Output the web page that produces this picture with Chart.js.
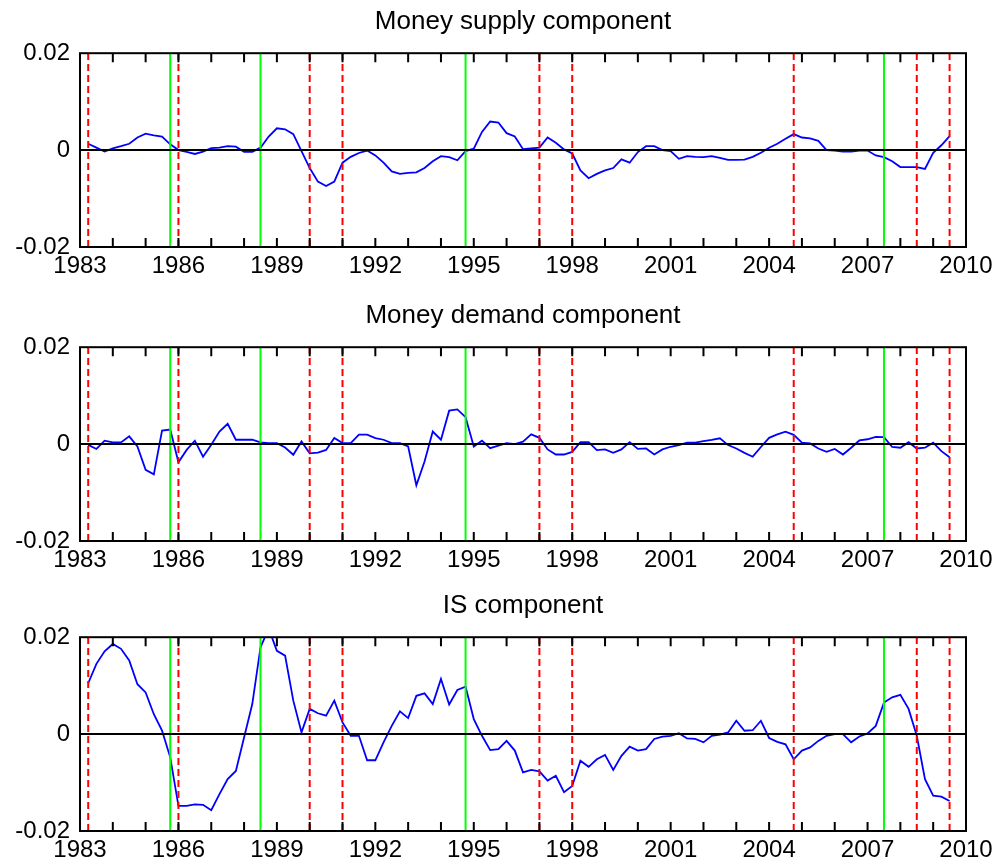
<!DOCTYPE html>
<html>
<head>
<meta charset="utf-8">
<title>Money supply, money demand and IS components</title>
<script src="https://cdn.jsdelivr.net/npm/chart.js@4.4.1/dist/chart.umd.min.js"></script>
<style>
  html, body { margin: 0; padding: 0; background: #fff; overflow: hidden; }
  .panel { position: absolute; left: 0; }
</style>
</head>
<body>
<canvas id="supplyChart" class="panel" width="1003" height="284" style="top:0px"></canvas>
<canvas id="demandChart" class="panel" width="1003" height="284" style="top:294px"></canvas>
<canvas id="isChart" class="panel" width="1003" height="284" style="top:584px"></canvas>
<script>
// quarterly data, first observation 1983Q2
const firstQuarter = 1983.25;

const supplyValues = [
  0.0013, 0.0005, -0.0003, 0.00035, 0.0008, 0.0013, 0.0026, 0.0034, 0.00305, 0.0028,
  0.0012, 0.0000, -0.00035, -0.0008, -0.0003, 0.0004, 0.0005, 0.0008, 0.0007, -0.00035,
  -0.00035, 0.0005, 0.0028, 0.0045, 0.0043, 0.0033, -0.0002, -0.0037, -0.0065, -0.0074,
  -0.0065, -0.0026, -0.0014, -0.0006, -0.0001, -0.0011, -0.0026, -0.0044, -0.0049, -0.0047,
  -0.0046, -0.0037, -0.0023, -0.00125, -0.00145, -0.0021, -0.0002, 0.0003, 0.00375, 0.0059,
  0.0057, 0.0035, 0.0028, 0.0002, 0.00035, 0.0005, 0.0026, 0.0015, 0.00015, -0.0007,
  -0.0042, -0.0058, -0.0049, -0.0042, -0.0037, -0.0019, -0.0026, -0.0004, 0.0008, 0.0008,
  0.0000, -0.0002, -0.0018, -0.00125, -0.0014, -0.00145, -0.00125, -0.0016, -0.0020, -0.0020,
  -0.00195, -0.0014, -0.00055, 0.0005, 0.0013, 0.00235, 0.0033, 0.0026, 0.0024, 0.0019,
  0.0000, -0.0001, -0.0003, -0.0003, -0.0001, -0.0001, -0.0011, -0.00145, -0.0023, -0.0035,
  -0.0035, -0.0035, -0.0039, -0.00055, 0.0010, 0.0029
];

const demandValues = [
  -0.00015, -0.0010, 0.0007, 0.00035, 0.00035, 0.0016, -0.0005, -0.0053, -0.00625, 0.0028,
  0.0030, -0.00375, -0.0012, 0.0007, -0.0026, -0.00015, 0.0026, 0.0042, 0.0009, 0.0009,
  0.0009, 0.00035, 0.0002, 0.0002, -0.0007, -0.0022, 0.00055, -0.0019, -0.00175, -0.0012,
  0.00125, 0.0002, 0.0002, 0.00195, 0.00195, 0.00125, 0.0009, 0.0002, 0.0002, -0.0005,
  -0.0085, -0.0036, 0.0026, 0.0009, 0.0069, 0.00715, 0.00555, -0.0005, 0.0007, -0.00085,
  -0.0003, 0.0002, 0.0000, 0.0005, 0.0020, 0.0013, -0.0011, -0.00215, -0.00215, -0.0016,
  0.0004, 0.0004, -0.00125, -0.0011, -0.0018, -0.0011, 0.0004, -0.0010, -0.0009, -0.00215,
  -0.0011, -0.00055, -0.0002, 0.0003, 0.0003, 0.0006, 0.00085, 0.0012, -0.0002, -0.0009,
  -0.0018, -0.0026, -0.0006, 0.0013, 0.0020, 0.00255, 0.0019, 0.0003, 0.00015, -0.0009,
  -0.0016, -0.0010, -0.00215, -0.00075, 0.00075, 0.0010, 0.0015, 0.00145, -0.0006, -0.00075,
  0.0004, -0.0009, -0.00075, 0.0003, -0.00145, -0.0027
];

const isValues = [
  0.0105, 0.0145, 0.0171, 0.0186, 0.0176, 0.0152, 0.0103, 0.0086, 0.0041, 0.0007,
  -0.0048, -0.0148, -0.0148, -0.0145, -0.0146, -0.0157, -0.0124, -0.0093, -0.0076, -0.0007,
  0.0062, 0.0179, 0.0218, 0.0172, 0.0162, 0.0069, 0.00035, 0.0052, 0.0043, 0.0038,
  0.0069, 0.0024, -0.00035, -0.00035, -0.0054, -0.0054, -0.0017, 0.0017, 0.0047, 0.0033,
  0.0079, 0.0084, 0.0062, 0.0114, 0.0061, 0.0091, 0.0098, 0.0031, -0.00035, -0.0033,
  -0.0031, -0.0014, -0.0034, -0.0079, -0.0074, -0.0077, -0.0096, -0.0086, -0.0120, -0.0107,
  -0.0055, -0.00675, -0.0052, -0.0043, -0.0074, -0.0045, -0.0026, -0.0034, -0.0031, -0.0010,
  -0.0005, -0.00035, 0.0002, -0.0009, -0.0010, -0.0017, -0.00035, -0.0001, 0.00035, 0.00275,
  0.0007, 0.0008, 0.00275, -0.0008, -0.0016, -0.0021, -0.0052, -0.0034, -0.00275, -0.0014,
  -0.00035, 0.0000, 0.0000, -0.0017, -0.0005, 0.00015, 0.0017, 0.0065, 0.0076, 0.0081,
  0.0052, -0.00035, -0.0093, -0.0127, -0.0129, -0.0138
];

// event dates (red dashed) and turning points (green solid)
const redLines = [1983.25, 1986.0, 1990.0, 1991.0, 1997.0, 1998.0, 2004.75, 2008.5, 2009.5];
const greenLines = [1985.75, 1988.5, 1994.75, 2007.5];

const labelYears = [1983, 1986, 1989, 1992, 1995, 1998, 2001, 2004, 2007, 2010];
const yTicks = [-0.02, 0, 0.02];

const xMin = 1983;
const xMax = 2010;
const yMin = -0.02;
const yMax = 0.02;

const fontFamily = '"Liberation Sans", Arial, sans-serif';
const tickLen = 9;

const quarters = supplyValues.map((_, i) => firstQuarter + i * 0.25);

// matlab style box with inward ticks every year
const boxPlugin = {
  id: 'boxPlugin',
  afterDraw(chart) {
    const { ctx, chartArea: area, scales } = chart;
    ctx.save();
    ctx.strokeStyle = '#000';
    ctx.lineWidth = 2;
    ctx.beginPath();
    for (let year = xMin + 1; year < xMax; year++) {
      const x = scales.x.getPixelForValue(year);
      ctx.moveTo(x, area.bottom);
      ctx.lineTo(x, area.bottom - tickLen);
      ctx.moveTo(x, area.top);
      ctx.lineTo(x, area.top + tickLen);
    }
    ctx.stroke();
    ctx.strokeRect(area.left, area.top, area.right - area.left, area.bottom - area.top);
    ctx.restore();
  }
};

const verticalLine = (value, color, dash) => ({
  data: [{ x: value, y: yMin }, { x: value, y: yMax }],
  borderColor: color,
  borderWidth: 2,
  borderDash: dash,
  pointRadius: 0,
  order: 2
});

const makePanel = (canvasId, titleText, values) => {
  const series = quarters.map((q, i) => ({ x: q, y: values[i] }));

  const datasets = [
    { data: series, borderColor: '#0000ff', borderWidth: 1.8, pointRadius: 0, tension: 0, order: 3 },
    ...redLines.map(v => verticalLine(v, '#ff0000', [7, 4])),
    ...greenLines.map(v => verticalLine(v, '#00ff00', [])),
    { data: [{ x: xMin, y: 0 }, { x: xMax, y: 0 }], borderColor: '#000000', borderWidth: 2, pointRadius: 0, order: 1 }
  ];

  new Chart(document.getElementById(canvasId), {
    type: 'line',
    data: { datasets: datasets },
    options: {
      responsive: false,
      animation: false,
      layout: { padding: { left: 0, right: 37, top: 0, bottom: 0 } },
      plugins: {
        legend: { display: false },
        tooltip: { enabled: false },
        title: {
          display: true,
          fullSize: false, // centre over the plot box, not the canvas
          text: titleText,
          color: '#000',
          font: { family: fontFamily, size: 26, weight: 'normal' },
          padding: { top: 6, bottom: 16 }
        }
      },
      scales: {
        x: {
          type: 'linear',
          min: xMin,
          max: xMax,
          grid: { display: false, drawTicks: false },
          border: { display: false },
          afterBuildTicks: scale => { scale.ticks = labelYears.map(v => ({ value: v })); },
          afterFit: scale => { scale.height = 37; },
          ticks: {
            color: '#000',
            font: { family: fontFamily, size: 24 },
            padding: 5,
            maxRotation: 0,
            autoSkip: false,
            callback: value => String(value)
          }
        },
        y: {
          min: yMin,
          max: yMax,
          grid: { display: false, drawTicks: false },
          border: { display: false },
          afterBuildTicks: scale => { scale.ticks = yTicks.map(v => ({ value: v })); },
          afterFit: scale => { scale.width = 80; },
          ticks: {
            color: '#000',
            font: { family: fontFamily, size: 24 },
            padding: 10,
            callback: value => value === 0 ? '0' : value.toFixed(2)
          }
        }
      }
    },
    plugins: [boxPlugin]
  });
};

makePanel('supplyChart', 'Money supply component', supplyValues);
makePanel('demandChart', 'Money demand component', demandValues);
makePanel('isChart', 'IS component', isValues);
</script>
</body>
</html>
